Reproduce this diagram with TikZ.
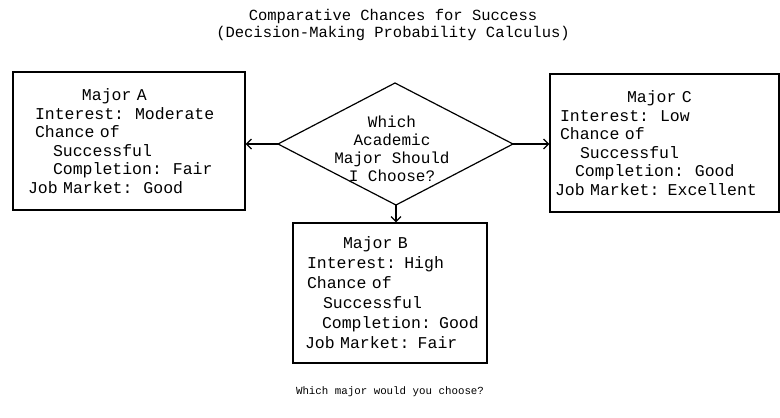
\documentclass[tikz,border=0pt]{standalone}
\usepackage{fontspec}
\setmonofont{Liberation Mono}
\usetikzlibrary{arrows.meta}
\begin{document}
\begin{tikzpicture}[x=1pt,y=-1pt,
  every node/.style={font=\ttfamily},
  box/.style={draw, line width=1.3pt, inner ysep=0pt, align=left},
  arr/.style={line width=1.2pt, -{Straight Barb[length=5pt,width=10pt,line width=1.2pt]}},
  edge/.style={line width=1.2pt, line join=miter}]
\useasboundingbox (0,0) rectangle (780,418);

% title
\node[align=center, font=\ttfamily\fontsize{15.5}{16.5}\selectfont] (title) at (393,25)
  {Comparative Chances for Success\\(Decision-Making Probability Calculus)};

% Major A
\node[box, minimum width=232pt, minimum height=138pt, text width=202pt, inner xsep=15pt,
      font=\ttfamily\fontsize{16.5}{18.5}\selectfont] (A) at (129,141)
  {\hspace*{54pt}Major A\\
   \hspace*{7pt}Interest:\ \ Moderate\\
   \hspace*{7pt}Chance of\\
   \hspace*{25pt}Successful\\
   \hspace*{25pt}Completion:\ \ Fair\\
   Job Market:\ \ Good};

% Major C
\node[box, minimum width=229pt, minimum height=138pt, text width=219pt, inner xsep=5pt,
      font=\ttfamily\fontsize{16.5}{18.6}\selectfont] (C) at (664.5,143)
  {\hspace*{72pt}Major C\\
   \hspace*{5pt}Interest:\ \ Low\\
   \hspace*{5pt}Chance of\\
   \hspace*{25pt}Successful\\
   \hspace*{20pt}Completion:\ \ Good\\
   Job Market: Excellent};

% Major B
\node[box, minimum width=194pt, minimum height=140pt, text width=180pt, inner xsep=7pt,
      font=\ttfamily\fontsize{16.5}{20}\selectfont] (B) at (390,293)
  {\hspace*{43pt}Major B\\
   \hspace*{7pt}Interest: High\\
   \hspace*{7pt}Chance of\\
   \hspace*{23pt}Successful\\
   \hspace*{22pt}Completion: Good\\
   \hspace*{5pt}Job Market: Fair};

% decision diamond
\coordinate (dt) at (395,83);
\coordinate (dl) at (278,144);
\coordinate (dr) at (513,144);
\coordinate (db) at (396,205);
\draw[edge] (dt) -- (dr) -- (db) -- (dl) -- cycle;
\node[align=center, font=\ttfamily\fontsize{16}{18}\selectfont] (q) at (392,149)
  {Which\\Academic\\Major Should\\I Choose?};

% connectors
\draw[arr] (dl) -- (dl -| A.east);
\draw[arr] (dr) -- (dr -| C.west);
\draw[arr] (db) -- (db |- B.north);

% question
\node[font=\ttfamily\fontsize{10.8}{12}\selectfont] (ask) at (390,392)
  {Which major would you choose?};
\end{tikzpicture}
\end{document}
